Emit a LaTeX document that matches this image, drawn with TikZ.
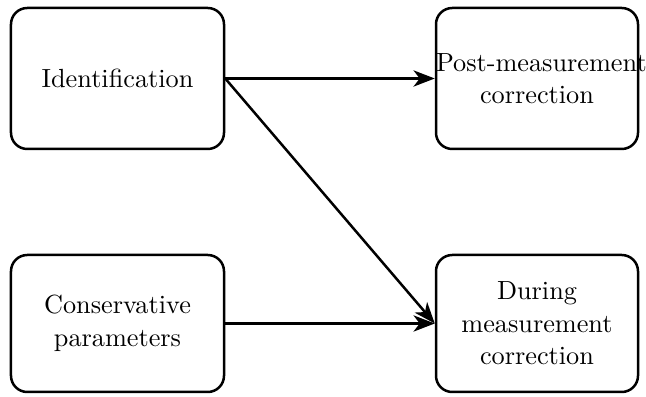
\documentclass[tikz,border=0pt]{standalone}
\usepackage{amsmath}
\usepackage{tikz}
\usetikzlibrary{positioning,arrows.meta}

\begin{document}
\begin{tikzpicture}[x=0.4pt,y=-0.4pt,
  box/.style={draw=black, line width=1pt, rounded corners=6.5pt, align=center, inner sep=0pt, font=\fontsize{10.5}{13}\selectfont},
  wide/.style={minimum width=85.2pt, minimum height=56.4pt},
  narrow/.style={minimum width=80.8pt, text width=80.8pt},
  arr/.style={black, line width=1pt, -{Stealth[length=8.5pt,width=6.5pt,inset=2.5pt]}}]
\useasboundingbox (0,0) rectangle (646,397);
\node[box, wide] (ident) at (117.5,78.5) {Identification};
\node[box, narrow, minimum height=56.4pt] (post) at (537,78.5) {\mbox{Post-measurement}\\correction};
\node[box, wide, minimum height=54.8pt] (cons) at (117.5,323.5) {Conservative\\parameters};
\node[box, narrow, minimum height=54.8pt] (during) at (537,323.5) {During\\measurement\\correction};
\draw[arr] (ident.east) -- (post.west);
\draw[arr] (ident.east) -- (during.west);
\draw[arr] (cons.east) -- (during.west);
\end{tikzpicture}
\end{document}
